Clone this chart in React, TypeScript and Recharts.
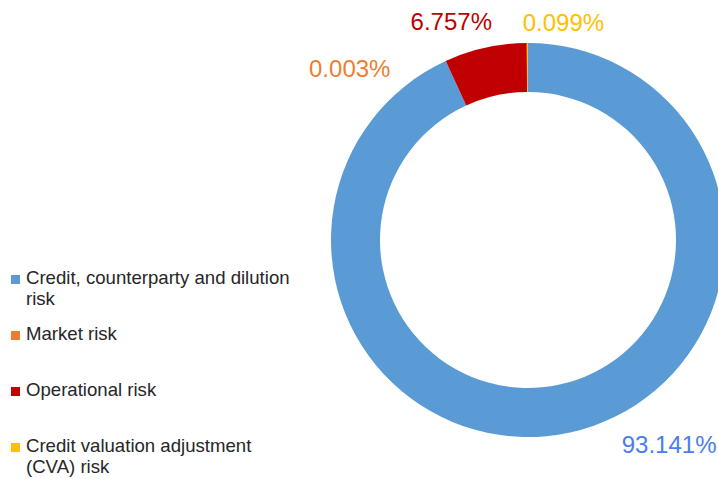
import React from 'react';
import { PieChart, Pie, Cell } from 'recharts';

const categories = [
  'Credit, counterparty and dilution risk',
  'Market risk',
  'Operational risk',
  'Credit valuation adjustment (CVA) risk',
];
const shares = [93.141, 0.003, 6.757, 0.099];
const valueLabels = ['93.141%', '0.003%', '6.757%', '0.099%'];

const sliceColors = ['#5B9BD5', '#ED7D31', '#C00000', '#FFC000'];
const labelColors = ['#4A7CF3', '#ED7D31', '#C00000', '#FFC000'];
// nudges from the outer edge of each slice to where the label sits
const labelNudges = [
  { dx: 99, dy: 12 },
  { dx: -96, dy: 7 },
  { dx: -34, dy: -26 },
  { dx: 36, dy: -21 },
];

const data = categories.map((name, i) => ({ name, value: shares[i] }));

const FONT = '"Liberation Sans", Arial, sans-serif';
const RAD = Math.PI / 180;

const renderLabel = (props: any) => {
  const { cx, cy, midAngle, outerRadius, index } = props;
  const x = cx + outerRadius * Math.cos(-midAngle * RAD) + labelNudges[index].dx;
  const y = cy + outerRadius * Math.sin(-midAngle * RAD) + labelNudges[index].dy;
  return (
    <text
      x={x}
      y={y}
      fill={labelColors[index]}
      textAnchor="middle"
      dominantBaseline="central"
      fontSize={24}
      fontFamily={FONT}
    >
      {valueLabels[index]}
    </text>
  );
};

const LegendBox = () => (
  <div
    style={{
      position: 'absolute',
      left: 0,
      top: 267,
      fontFamily: FONT,
      fontSize: 18.6,
      lineHeight: '21px',
      color: '#262626',
    }}
  >
    {categories.map((c, i) => (
      <div key={c} style={{ position: 'relative', height: 56, paddingLeft: 26, width: 272 }}>
        <span
          style={{
            position: 'absolute',
            left: 11,
            top: 8,
            width: 9,
            height: 9,
            background: sliceColors[i],
          }}
        />
        {c}
      </div>
    ))}
  </div>
);

export default function App() {
  return (
    <div style={{ position: 'absolute', left: 0, top: 0, width: 718, height: 479, background: '#fff' }}>
      <PieChart width={718} height={479} margin={{ top: 0, right: 0, bottom: 0, left: 0 }}>
        <Pie
          data={data}
          dataKey="value"
          nameKey="name"
          cx={528}
          cy={240}
          innerRadius={148}
          outerRadius={197}
          startAngle={90}
          endAngle={-270}
          stroke="none"
          label={renderLabel}
          labelLine={false}
          isAnimationActive={false}
        >
          {data.map((d, i) => (
            <Cell key={d.name} fill={sliceColors[i]} />
          ))}
        </Pie>
      </PieChart>
      <LegendBox />
    </div>
  );
}
